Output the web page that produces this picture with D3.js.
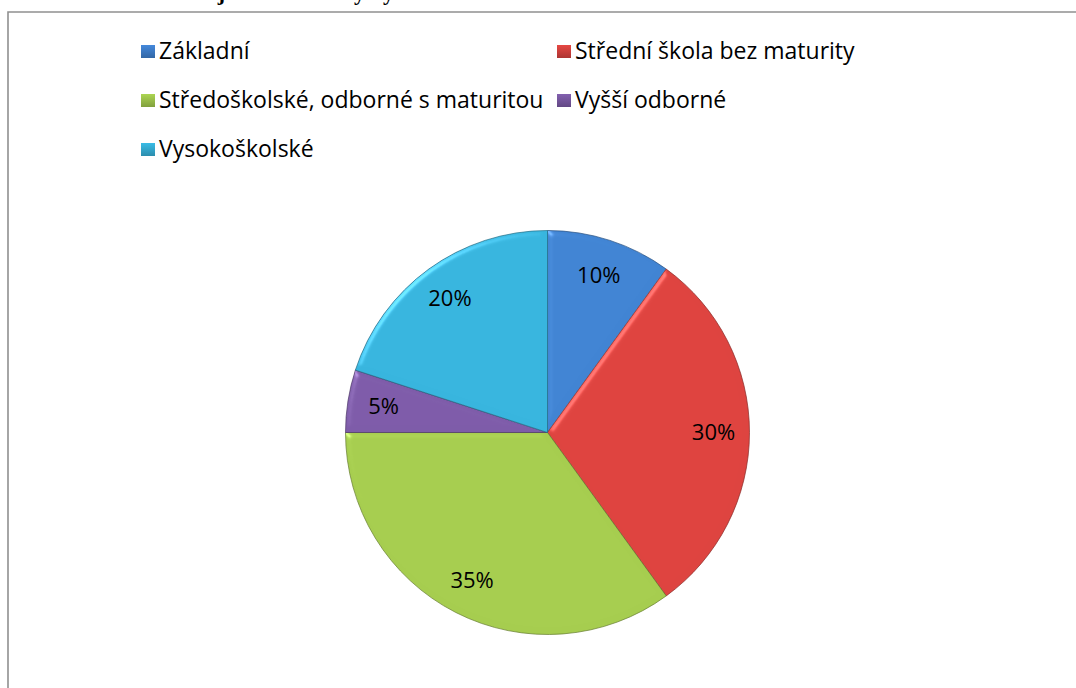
<!DOCTYPE html>
<html>
<head>
<meta charset="utf-8">
<script src="https://cdn.jsdelivr.net/npm/d3@7"></script>
<style>
  body { margin: 0; background: #fff; }
  .legend text, text.label { font-family: "Open Sans", Lato, sans-serif; fill: #000; }
  .caption text { font-family: "Liberation Serif", serif; font-weight: bold; }
</style>
</head>
<body>
<div id="chart"></div>
<script>
var categories = ["Základní", "Střední škola bez maturity", "Středoškolské, odborné s maturitou", "Vyšší odborné", "Vysokoškolské"];
var values = [10, 30, 35, 5, 20];
var labels = ["10%", "30%", "35%", "5%", "20%"];
var colors = ["#3f7fcc", "#d6423e", "#a0c64c", "#7a59a3", "#36afd6"];

var width = 1076,
    height = 688,
    cx = 547.5,
    cy = 432.5,
    radius = 202;

var svg = d3.select("#chart").append("svg")
    .attr("width", width)
    .attr("height", height);

var defs = svg.append("defs");

// bevel filter, Office 2007 style
var bevel = defs.append("filter")
    .attr("id", "bevel")
    .attr("color-interpolation-filters", "sRGB")
    .attr("x", "-10%").attr("y", "-10%")
    .attr("width", "120%").attr("height", "120%");
bevel.append("feGaussianBlur")
    .attr("in", "SourceAlpha")
    .attr("stdDeviation", 3)
    .attr("result", "blur");
var spec = bevel.append("feSpecularLighting")
    .attr("in", "blur")
    .attr("surfaceScale", 3)
    .attr("specularConstant", 0.45)
    .attr("specularExponent", 40)
    .attr("lighting-color", "#ffffff")
    .attr("result", "spec");
spec.append("feDistantLight")
    .attr("azimuth", 225)
    .attr("elevation", 35);
bevel.append("feComposite")
    .attr("in", "spec")
    .attr("in2", "SourceAlpha")
    .attr("operator", "in")
    .attr("result", "specIn");
bevel.append("feComposite")
    .attr("in", "SourceGraphic")
    .attr("in2", "specIn")
    .attr("operator", "arithmetic")
    .attr("k1", 0).attr("k2", 1).attr("k3", 0.5).attr("k4", 0);

// vertical shading for each colour
colors.forEach(function(c, i) {
  var g = defs.append("linearGradient")
      .attr("id", "grad" + i)
      .attr("gradientUnits", "userSpaceOnUse")
      .attr("x1", 0).attr("y1", cy - radius)
      .attr("x2", 0).attr("y2", cy + radius);
  g.append("stop").attr("offset", "0%").attr("stop-color", d3.color(c).brighter(0.1));
  g.append("stop").attr("offset", "100%").attr("stop-color", d3.color(c).darker(0.35));

  var lg = defs.append("linearGradient")
      .attr("id", "lgrad" + i)
      .attr("x1", 0).attr("y1", 0)
      .attr("x2", 0).attr("y2", 1);
  lg.append("stop").attr("offset", "0%").attr("stop-color", d3.color(c).brighter(0.2));
  lg.append("stop").attr("offset", "100%").attr("stop-color", d3.color(c).darker(0.6));
});

// frame
svg.append("path")
    .attr("d", "M8,700 V12 H1080")
    .attr("fill", "none")
    .attr("stroke", "#909090")
    .attr("stroke-width", 1.6);

// clipped caption above the frame
var cap = svg.append("g")
    .attr("class", "caption")
    .attr("font-size", 22);
cap.append("text").attr("x", 225).attr("y", 0).attr("text-anchor", "end").text("Graf č. 1 Nej");
cap.append("text").attr("x", 365).attr("y", 0).attr("text-anchor", "end").text("vzdělání by");
cap.append("text").attr("x", 394).attr("y", 0).attr("text-anchor", "end").text("ky");

// legend
var legendX = [141, 557];
var legendY = [59, 108, 157];
var legendPos = [[0, 0], [1, 0], [0, 1], [1, 1], [0, 2]];

var legend = svg.append("g").attr("class", "legend");
var items = legend.selectAll("g")
    .data(categories)
    .enter().append("g")
    .attr("transform", function(d, i) {
      return "translate(" + legendX[legendPos[i][0]] + "," + legendY[legendPos[i][1]] + ")";
    });
items.append("rect")
    .attr("x", 0)
    .attr("y", -14)
    .attr("width", 14)
    .attr("height", 13)
    .attr("fill", function(d, i) { return "url(#lgrad" + i + ")"; });
items.append("text")
    .attr("x", 18)
    .attr("y", 0)
    .attr("font-size", 23)
    .text(function(d) { return d; });

// pie
var pie = d3.pie()
    .value(function(d) { return d; })
    .sort(null);

var arc = d3.arc()
    .innerRadius(0)
    .outerRadius(radius);

var labelArc = d3.arc()
    .innerRadius(166)
    .outerRadius(166);

var g = svg.append("g");
var arcs = pie(values);

g.selectAll("path.slice")
    .data(arcs)
    .enter().append("path")
    .attr("class", "slice")
    .attr("transform", "translate(" + cx + "," + cy + ")")
    .attr("d", arc)
    .attr("fill", function(d, i) { return "url(#grad" + i + ")"; })
    .attr("stroke", function(d, i) { return d3.color(colors[i]).darker(1.3); })
    .attr("stroke-width", 0.7)
    .attr("filter", "url(#bevel)");

g.selectAll("text.label")
    .data(arcs)
    .enter().append("text")
    .attr("class", "label")
    .attr("transform", function(d) {
      var c = labelArc.centroid(d);
      return "translate(" + (cx + c[0]) + "," + (cy + c[1]) + ")";
    })
    .attr("text-anchor", "middle")
    .attr("dy", "0.36em")
    .attr("font-size", 22)
    .text(function(d, i) { return labels[i]; });
</script>
</body>
</html>
